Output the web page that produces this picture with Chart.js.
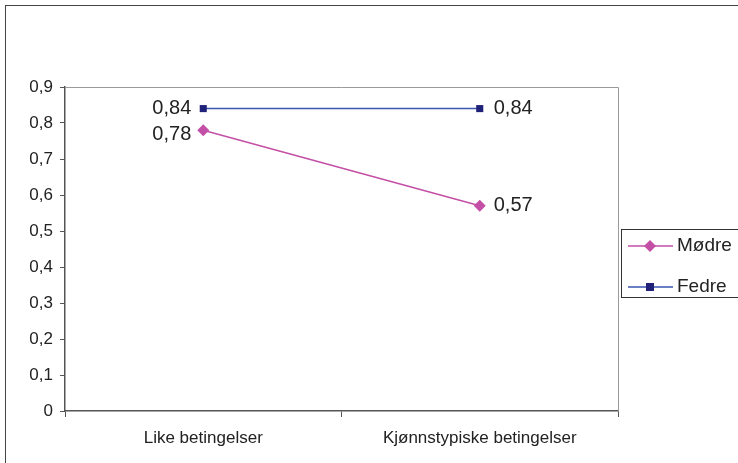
<!DOCTYPE html>
<html>
<head>
<meta charset="utf-8">
<script src="https://cdn.jsdelivr.net/npm/chart.js@4/dist/chart.umd.min.js"></script>
<style>
  html, body { margin: 0; padding: 0; background: #fff; }
  #wrap { width: 738px; height: 463px; }
</style>
</head>
<body>
<div id="wrap"><canvas id="myChart" width="738" height="463"></canvas></div>
<script>
var categories = ["Like betingelser", "Kjønnstypiske betingelser"];
var modre = [0.78, 0.57];
var fedre = [0.84, 0.84];
var seriesNames = ["Mødre", "Fedre"];
var yTicks = [0, 0.1, 0.2, 0.3, 0.4, 0.5, 0.6, 0.7, 0.8, 0.9];

var FONT = "'Liberation Sans', Arial, sans-serif";

function fmt(v) {
  if (v === 0) return "0";
  return String(Math.round(v * 100) / 100).replace(".", ",");
}

// frame, plot border, labels and legend
var extras = {
  id: 'extras',
  afterDraw: function(chart) {
    var ctx = chart.ctx;
    var a = chart.chartArea;
    ctx.save();
    // outer frame (cut at right/bottom like the original)
    ctx.strokeStyle = '#444';
    ctx.lineWidth = 1;
    ctx.strokeRect(5.5, 5.5, 760, 480);
    // plot top + right border
    ctx.strokeStyle = '#9a9a9a';
    ctx.beginPath();
    ctx.moveTo(a.left, a.top + 0.5);
    ctx.lineTo(a.right + 0.5, a.top + 0.5);
    ctx.lineTo(a.right + 0.5, a.bottom);
    ctx.stroke();

    // data labels
    ctx.font = '20px ' + FONT;
    ctx.fillStyle = '#222';
    ctx.textBaseline = 'middle';
    chart.data.datasets.forEach(function(ds, di) {
      var meta = chart.getDatasetMeta(di);
      meta.data.forEach(function(pt, i) {
        var txt = fmt(ds.data[i]);
        var dy = (di === 0 && i === 0) ? 4 : 0;
        if (i === 0) {
          ctx.textAlign = 'right';
          ctx.fillText(txt, pt.x - 12, pt.y + dy);
        } else {
          ctx.textAlign = 'left';
          ctx.fillText(txt, pt.x + 14, pt.y + dy);
        }
      });
    });

    // legend
    var lx = 621, ly = 229, lw = 130, lh = 68;
    ctx.strokeStyle = '#333';
    ctx.strokeRect(lx + 0.5, ly + 0.5, lw, lh);
    var rows = [246, 287];
    chart.data.datasets.forEach(function(ds, di) {
      var y = rows[di];
      ctx.strokeStyle = ds.borderColor;
      ctx.lineWidth = 1.5;
      ctx.beginPath();
      ctx.moveTo(628, y);
      ctx.lineTo(673, y);
      ctx.stroke();
      ctx.fillStyle = ds.pointBackgroundColor;
      if (ds.pointStyle === 'rectRot') {
        ctx.beginPath();
        ctx.moveTo(650, y - 6);
        ctx.lineTo(656, y);
        ctx.lineTo(650, y + 6);
        ctx.lineTo(644, y);
        ctx.closePath();
        ctx.fill();
      } else {
        ctx.fillRect(646, y - 4, 8, 8);
      }
      ctx.fillStyle = '#222';
      ctx.font = '19px ' + FONT;
      ctx.textAlign = 'left';
      ctx.textBaseline = 'middle';
      ctx.fillText(ds.label, 677, y);
    });
    ctx.restore();
  }
};

var ctx = document.getElementById('myChart').getContext('2d');
var chart = new Chart(ctx, {
  type: 'line',
  data: {
    labels: categories,
    datasets: [{
      label: seriesNames[0],
      data: modre,
      borderColor: '#c44fa6',
      borderWidth: 1.5,
      pointStyle: 'rectRot',
      pointRadius: 6,
      pointBackgroundColor: '#c44fa6',
      pointBorderColor: '#c44fa6',
      pointBorderWidth: 0,
      tension: 0
    }, {
      label: seriesNames[1],
      data: fedre,
      borderColor: '#3a56b0',
      borderWidth: 1.5,
      pointStyle: 'rect',
      pointRadius: 5,
      pointBackgroundColor: '#1f2278',
      pointBorderColor: '#1f2278',
      pointBorderWidth: 0,
      tension: 0
    }]
  },
  options: {
    responsive: false,
    animation: false,
    layout: { padding: { top: 87, right: 120, bottom: 0, left: 5 } },
    plugins: {
      legend: { display: false },
      tooltip: { enabled: false }
    },
    scales: {
      y: {
        min: 0,
        max: 0.9,
        afterBuildTicks: function(axis) {
          axis.ticks = yTicks.map(function(v) { return { value: v }; });
        },
        afterFit: function(axis) { axis.width = 60; },
        border: { color: '#555', width: 1.5 },
        grid: { drawOnChartArea: false, tickLength: 5, color: '#555' },
        ticks: {
          padding: 7,
          color: '#222',
          font: { family: FONT, size: 17 },
          callback: function(v) { return fmt(v); }
        }
      },
      x: {
        offset: true,
        afterFit: function(axis) { axis.height = 52; },
        border: { color: '#555', width: 1.5 },
        grid: { offset: true, drawOnChartArea: false, tickLength: 6, color: '#555' },
        ticks: {
          padding: 11,
          color: '#222',
          maxRotation: 0,
          font: { family: FONT, size: 17 }
        }
      }
    }
  },
  plugins: [extras]
});
</script>
</body>
</html>
